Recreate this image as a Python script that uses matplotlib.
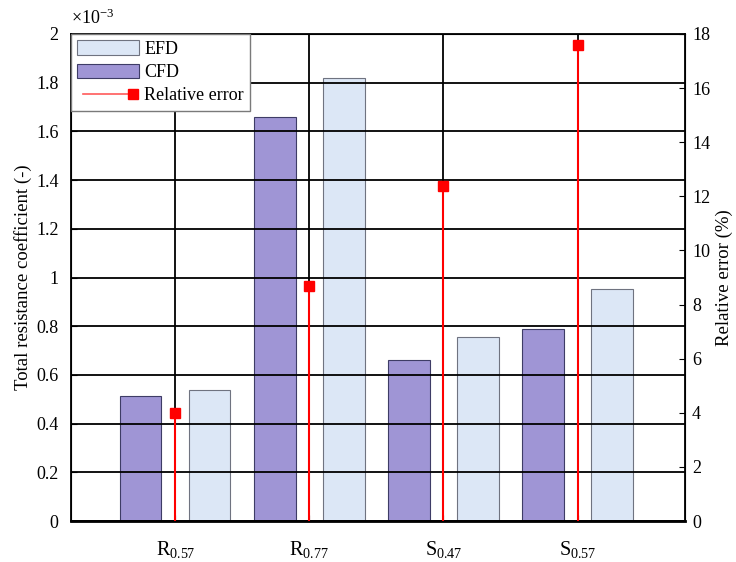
import matplotlib
matplotlib.use("Agg")
import matplotlib.pyplot as plt
from matplotlib.lines import Line2D
from matplotlib.patches import Patch
from matplotlib.legend_handler import HandlerLine2D
import numpy as np

plt.rcParams['font.family'] = ['Liberation Serif', 'DejaVu Serif']
plt.rcParams['mathtext.fontset'] = 'custom'
plt.rcParams['mathtext.rm'] = 'Liberation Serif'
plt.rcParams['mathtext.it'] = 'Liberation Serif:italic'

# Data
cases = [r'$\mathrm{R}_{0.57}$', r'$\mathrm{R}_{0.77}$', r'$\mathrm{S}_{0.47}$', r'$\mathrm{S}_{0.57}$']
cfd = [0.515, 1.659, 0.661, 0.789]      # x 10^-3
efd = [0.538, 1.819, 0.756, 0.953]      # x 10^-3
rel_err = [4.0, 8.7, 12.4, 17.6]        # %

x = np.arange(1, len(cases) + 1)
width = 0.31
offset = 0.257


class RightMarkerHandler(HandlerLine2D):
    """Legend line with a single marker at its right end."""
    def create_artists(self, legend, orig_handle, xdescent, ydescent,
                       width, height, fontsize, trans):
        arts = super().create_artists(legend, orig_handle, xdescent, ydescent,
                                      width, height, fontsize, trans)
        if len(arts) >= 2:
            line, marker = arts[0], arts[1]
            xs = line.get_xdata()
            ys = line.get_ydata()
            marker.set_data([xs[-1]], [ys[-1]])
        else:
            line = arts[0]
            line.set_markevery([len(line.get_xdata()) - 1])
        return arts


fig = plt.figure(figsize=(7.36, 5.62), dpi=100)
ax = fig.add_axes([71/736, 41/562, 614/736, 487/562])
ax2 = ax.twinx()

ax.bar(x - offset, cfd, width, color='#9f95d5', edgecolor='#3e3c66', linewidth=0.8, zorder=1)
ax.bar(x + offset, efd, width, color='#dce7f6', edgecolor='#6f7380', linewidth=0.8, zorder=1)

ax.set_xlim(0.224, 4.8)
ax.set_ylim(0, 2)
ax.set_yticks(np.arange(0, 2.01, 0.2))
ax.set_yticklabels(['0', '0.2', '0.4', '0.6', '0.8', '1', '1.2', '1.4', '1.6', '1.8', '2'])
ax.set_xticks(x)
ax.set_xticklabels(cases)
ax.grid(True, color='black', linewidth=1.3, zorder=2)
ax.set_axisbelow(False)
ax.tick_params(axis='both', direction='in', labelsize=13, length=4)
ax.tick_params(axis='y', pad=9)
ax.tick_params(axis='x', pad=13, labelsize=14.5)
ax.set_ylabel('Total resistance coefficient (-)', fontsize=13.5, labelpad=3)
ax.text(0.0, 1.012, r'$\times\mathrm{10}^{\mathrm{-3}}$', transform=ax.transAxes,
        fontsize=13, ha='left', va='bottom')

for s in ax.spines.values():
    s.set_linewidth(1.3)
ax.spines['bottom'].set_linewidth(2.0)

ax2.set_ylim(0, 18)
ax2.set_yticks(np.arange(0, 19, 2))
ax2.tick_params(axis='y', direction='in', labelsize=13, length=4, pad=5)
ax2.set_ylabel('Relative error (%)', fontsize=13.5, labelpad=4)
ax2.vlines(x, 0, rel_err, color='red', linewidth=1.5, zorder=3)
ax2.plot(x, rel_err, linestyle='none', marker='s', markersize=7, color='red', zorder=4)

err_handle = Line2D([], [], color='#ff5a5a', linewidth=1.2, marker='s', markersize=7,
                    markerfacecolor='red', markeredgecolor='red', label='Relative error')
handles = [
    Patch(facecolor='#dce7f6', edgecolor='#6f7380', linewidth=0.8, label='EFD'),
    Patch(facecolor='#9f95d5', edgecolor='#3e3c66', linewidth=0.8, label='CFD'),
    err_handle,
]
leg = ax2.legend(handles=handles, loc='upper left', bbox_to_anchor=(0, 1), borderaxespad=0,
                 fancybox=False, framealpha=1, edgecolor='#7a7a7a', fontsize=13,
                 numpoints=2, handlelength=3.4, handleheight=0.85, labelspacing=0.32,
                 handletextpad=0.3, borderpad=0.35,
                 handler_map={err_handle: RightMarkerHandler()})
leg.get_frame().set_linewidth(1.0)
leg.set_zorder(10)

fig.savefig('out.png', dpi=100)
